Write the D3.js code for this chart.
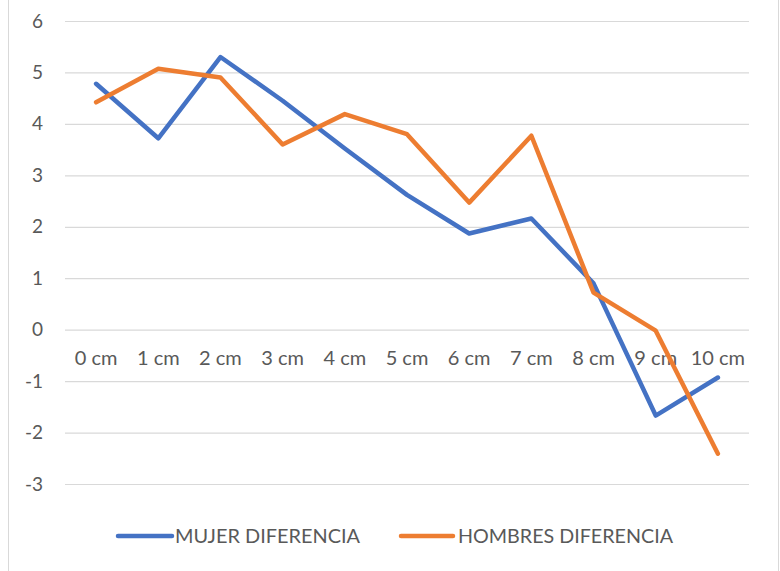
<!DOCTYPE html>
<html><head><meta charset="utf-8">
<script src="https://cdn.jsdelivr.net/npm/d3@7"></script>
<style>body{margin:0;background:#fff}svg{display:block}</style>
</head><body>
<script>
const categories = ["0 cm","1 cm","2 cm","3 cm","4 cm","5 cm","6 cm","7 cm","8 cm","9 cm","10 cm"];
const mujer = [4.78, 3.72, 5.3, 4.45, 3.52, 2.62, 1.87, 2.16, 0.9, -1.67, -0.93];
const hombres = [4.42, 5.07, 4.9, 3.6, 4.19, 3.8, 2.47, 3.77, 0.72, -0.02, -2.41];
const yTicks = [6,5,4,3,2,1,0,-1,-2,-3];
const seriesNames = ["MUJER DIFERENCIA","HOMBRES DIFERENCIA"];
const colors = ["#4472C4","#ED7D31"];

const W=780,H=571;
const svg=d3.select("body").append("svg").attr("width",W).attr("height",H);
svg.append("rect").attr("x",8.5).attr("y",-5).attr("width",770).attr("height",H+10)
  .attr("fill","#fff").attr("stroke","#d9d9d9");

const x=d3.scaleBand().domain(categories).range([65,749]);
const y=d3.scaleLinear().domain([-3,6]).range([484,21]);
const font="Lato, 'Open Sans', sans-serif";

// gridlines + y labels
const yAxis=d3.axisLeft(y).tickValues(yTicks).tickSize(-(749-65)).tickFormat(d=>String(d)).tickPadding(22);
const ga=svg.append("g").attr("transform","translate(65,0)").call(yAxis);
ga.select(".domain").remove();
ga.selectAll(".tick line").attr("stroke","#d9d9d9").attr("stroke-width",1.2);
ga.selectAll(".tick text").attr("fill","#595959").style("font-family",font).style("font-size","19px");

// x labels at y=0 line
const xAxis=d3.axisBottom(x).tickSize(0).tickPadding(21);
const gx=svg.append("g").attr("transform",`translate(0,${y(0)})`).call(xAxis);
gx.select(".domain").remove();
gx.selectAll(".tick text").attr("fill","#595959").style("font-family",font).style("font-size","20px");

const line=d3.line().x((d,i)=>x(categories[i])+x.bandwidth()/2).y(d=>y(d));
[mujer,hombres].forEach((s,k)=>{
  svg.append("path").datum(s).attr("d",line).attr("fill","none")
    .attr("stroke",colors[k]).attr("stroke-width",4.5)
    .attr("stroke-linejoin","round").attr("stroke-linecap","round");
});

// legend
const leg=[{x1:118,x2:172,tx:175,tw:185},{x1:401,x2:453,tx:458,tw:215}];
leg.forEach((l,k)=>{
  svg.append("line").attr("x1",l.x1).attr("x2",l.x2).attr("y1",536).attr("y2",536)
    .attr("stroke",colors[k]).attr("stroke-width",4.5).attr("stroke-linecap","round");
  svg.append("text").attr("x",l.tx).attr("y",543).text(seriesNames[k])
    .attr("fill","#595959").style("font-family",font).style("font-size","20px")
    .attr("textLength",l.tw).attr("lengthAdjust","spacingAndGlyphs");
});
</script>
</body></html>
